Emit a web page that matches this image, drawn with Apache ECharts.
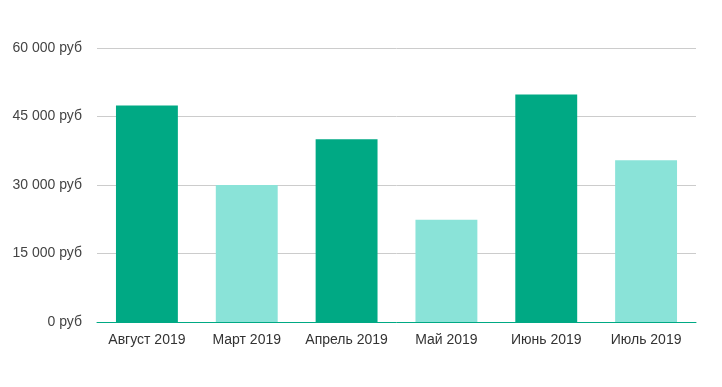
<!DOCTYPE html>
<html>
<head>
<meta charset="utf-8">
<script src="https://cdn.jsdelivr.net/npm/echarts@6/dist/echarts.min.js"></script>
<style>html,body{margin:0;padding:0;background:#fff}#c{width:722px;height:387px}</style>
</head>
<body>
<div id="c"></div>
<script>
const categories = ['Август 2019', 'Март 2019', 'Апрель 2019', 'Май 2019', 'Июнь 2019', 'Июль 2019'];
const values = [47400, 30000, 40000, 22400, 49800, 35400];
const barColors = ['#00a984', '#8ae3d8', '#00a984', '#8ae3d8', '#00a984', '#8ae3d8'];
const yTicks = [0, 15000, 30000, 45000, 60000];

const fmt = v => (v === 0 ? '0' : String(v).replace(/\B(?=(\d{3})+(?!\d))/g, ' ')) + ' руб';

const chart = echarts.init(document.getElementById('c'));
chart.setOption({
  animation: false,
  textStyle: { fontFamily: '"Liberation Sans", Arial, sans-serif' },
  grid: { left: 97, right: 26, top: 48, bottom: 65, containLabel: false },
  xAxis: {
    type: 'category',
    data: categories,
    axisLine: { lineStyle: { color: '#00a984', width: 1 } },
    axisTick: { show: false },
    axisLabel: { color: '#333', fontSize: 14, margin: 11, interval: 0, hideOverlap: false }
  },
  yAxis: {
    type: 'value',
    min: yTicks[0],
    max: yTicks[yTicks.length - 1],
    interval: 15000,
    axisLine: { show: false },
    axisTick: { show: false },
    splitLine: { lineStyle: { color: '#cccccc' } },
    axisLabel: { color: '#444', fontSize: 14, margin: 15, formatter: fmt }
  },
  series: [{
    type: 'bar',
    barWidth: '62%',
    data: values.map((v, i) => ({ value: v, itemStyle: { color: barColors[i] } }))
  }]
});
</script>
</body>
</html>
